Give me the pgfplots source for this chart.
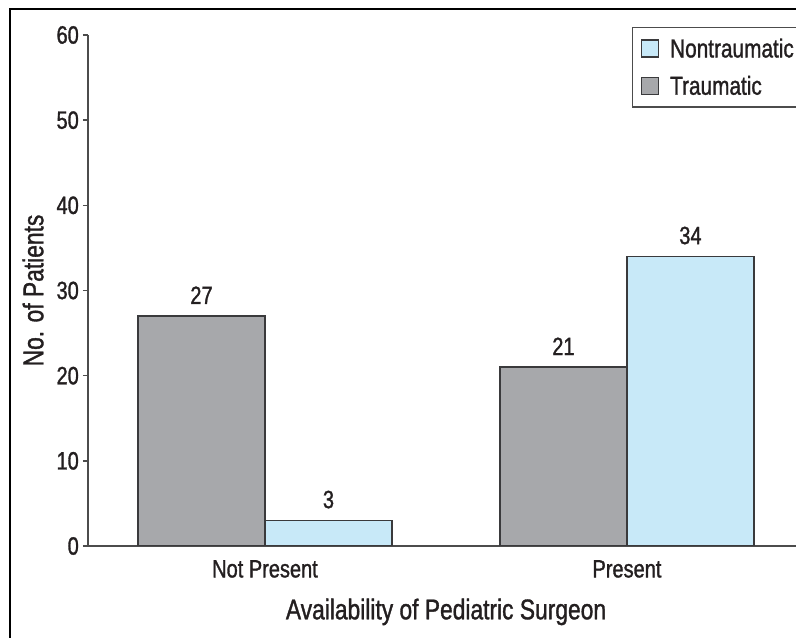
\documentclass[border=0pt]{standalone}
\usepackage{pgfplots}
\pgfplotsset{compat=1.18}
\usepackage{fontspec}
\setmainfont{Liberation Sans}[FakeStretch=0.8, FakeBold=1.2]
\definecolor{trauma}{HTML}{A7A8AB}
\definecolor{nontrauma}{HTML}{C8E9F8}
\definecolor{edge}{HTML}{3A3A3C}
\definecolor{ink}{HTML}{231F20}
\newcommand\chartfont{\fontsize{25bp}{29bp}\selectfont}
\newcommand\legendfont{\fontsize{26bp}{29bp}\selectfont}
\newcommand\labelfont{\fontsize{28.5bp}{32bp}\selectfont}

\begin{document}
\begin{tikzpicture}
\useasboundingbox (0,0) rectangle (796bp,638bp);
\clip (0,0) rectangle (796bp,638bp);
\draw[line width=1.5bp] (10bp,-5bp) -- (10bp,629bp) -- (805bp,629bp);
\begin{axis}[
  at={(88bp,92bp)}, anchor=south west,
  scale only axis, width=742bp, height=511bp,
  xmin=-0.489, xmax=1.561, ymin=0, ymax=60,
  ybar=0pt, bar width=127bp,
  axis x line=bottom, axis y line=left,
  axis line style={line width=1.8bp, color=black!70, -},
  xtick={0,1}, xticklabels={Not Present, Present},
  x tick style={draw=none},
  ytick={0,10,...,60},
  y tick style={line width=1.5bp, color=black!70},
  tick align=outside, major tick length=5bp,
  /pgf/number format/assume math mode=true,
  ticklabel style={font=\chartfont, color=ink},
  yticklabel style={inner sep=0pt, xshift=-4bp},
  xticklabel style={inner sep=0pt, yshift=-9bp},
  ylabel={No. of Patients},
  xlabel={Availability of Pediatric Surgeon},
  every axis y label/.style={at={(axis description cs:-0.074,0.5)}, rotate=90, anchor=center},
  every axis x label/.style={at={(axis description cs:0.4825,-0.129)}, anchor=center},
  label style={font=\labelfont, color=ink},
  nodes near coords,
  every node near coord/.append style={font=\chartfont, color=ink, yshift=8bp},
  reverse legend,
  legend cell align=left,
  legend style={at={(0.733,1.016)}, anchor=north west, draw=black!70,
    line width=1.5bp, font=\legendfont, text=ink, inner xsep=8bp, inner ysep=9bp,
    row sep=13bp},
  legend image code/.code={%
    \draw[#1, line width=1.5bp] (0bp,-8.5bp) rectangle (17bp,8.5bp);
    \path (26bp,0bp);},
]
\addplot[fill=trauma, draw=edge, line width=1.5bp] coordinates {(0,27) (1,21)};
\addplot[fill=nontrauma, draw=edge, line width=1.5bp] coordinates {(0,3) (1,34)};
\legend{Traumatic, Nontraumatic}
\end{axis}
\end{tikzpicture}
\end{document}
